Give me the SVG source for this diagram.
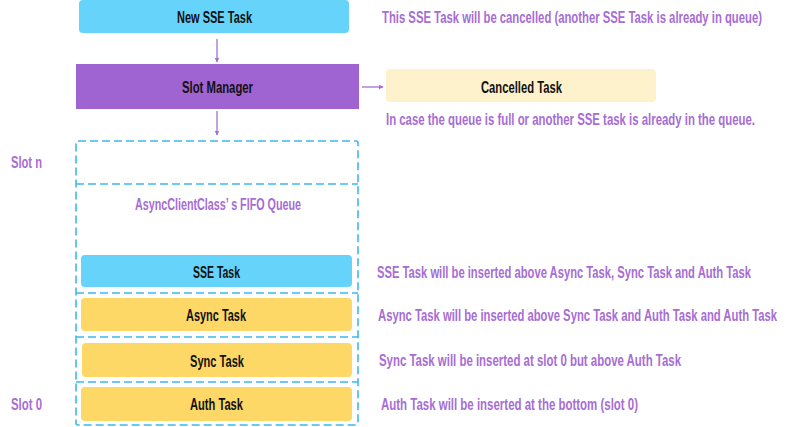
<svg xmlns="http://www.w3.org/2000/svg" width="800" height="427" viewBox="0 0 800 427">
<defs>
<marker id="ah" viewBox="0 0 10 10" refX="9" refY="5" markerWidth="5" markerHeight="5" orient="auto" markerUnits="userSpaceOnUse">
<path d="M0,0 L10,5 L0,10 z" fill="#A66DD4"/>
</marker>
<style>
text{font-family:"Liberation Sans","DejaVu Sans",sans-serif;font-size:16px;font-weight:bold;}
.lbl{fill:#111;text-anchor:middle;}
.note{fill:#A66DD4;}
.mid{fill:#A66DD4;text-anchor:middle;}
.blue{fill:#66D3FA;}
.yel{fill:#FED866;}
.dash{fill:none;stroke:#3CB8F0;stroke-width:1.6;stroke-dasharray:8 4;}
.conn{stroke:#A66DD4;stroke-width:1.3;fill:none;marker-end:url(#ah);}
</style>
</defs>
<rect width="800" height="427" fill="#fff"/>
<g id="connectors">
<line class="conn" x1="217" y1="39" x2="217" y2="62"/>
<line class="conn" x1="217" y1="111" x2="217" y2="135"/>
<line class="conn" x1="362" y1="87" x2="383" y2="87"/>
</g>
<g id="new-sse-task">
<rect class="blue" x="79" y="0" width="270" height="33" rx="4"/>
<text class="lbl" x="214.5" y="22.5" textLength="75" lengthAdjust="spacingAndGlyphs">New SSE Task</text>
</g>
<text class="note" x="382" y="22.5" textLength="380" lengthAdjust="spacingAndGlyphs">This SSE Task will be cancelled (another SSE Task is already in queue)</text>
<g id="slot-manager">
<rect x="76" y="64" width="283" height="45" fill="#A064D2"/>
<text class="lbl" x="217.5" y="92.5" textLength="71" lengthAdjust="spacingAndGlyphs">Slot Manager</text>
</g>
<g id="cancelled-task">
<rect x="386" y="69" width="270" height="33" rx="4" fill="#FEF2CC"/>
<text class="lbl" x="521.5" y="92.5" textLength="81" lengthAdjust="spacingAndGlyphs">Cancelled Task</text>
</g>
<text class="note" x="386" y="124.5" textLength="369" lengthAdjust="spacingAndGlyphs">In case the queue is full or another SSE task is already in the queue.</text>
<g id="queue">
<rect class="dash" x="76" y="141" width="282" height="284" rx="2"/>
<line class="dash" x1="76" y1="184" x2="358" y2="184"/>
<line class="dash" x1="76" y1="293" x2="358" y2="293"/>
<line class="dash" x1="76" y1="337" x2="358" y2="337"/>
<line class="dash" x1="76" y1="382" x2="358" y2="382"/>
<text class="mid" x="218" y="209.5" textLength="166" lengthAdjust="spacingAndGlyphs">AsyncClientClass’ s FIFO Queue</text>
</g>
<text class="note" x="11" y="167.5" textLength="31" lengthAdjust="spacingAndGlyphs">Slot n</text>
<text class="note" x="11" y="409.5" textLength="31" lengthAdjust="spacingAndGlyphs">Slot 0</text>
<g id="sse-task">
<rect class="blue" x="81" y="255" width="271" height="32" rx="4"/>
<text class="lbl" x="216.5" y="277.5" textLength="47" lengthAdjust="spacingAndGlyphs">SSE Task</text>
</g>
<g id="async-task">
<rect class="yel" x="81" y="298" width="271" height="33" rx="4"/>
<text class="lbl" x="216" y="320.5" textLength="60" lengthAdjust="spacingAndGlyphs">Async Task</text>
</g>
<g id="sync-task">
<rect class="yel" x="82" y="343" width="270" height="34" rx="4"/>
<text class="lbl" x="217" y="366.5" textLength="54" lengthAdjust="spacingAndGlyphs">Sync Task</text>
</g>
<g id="auth-task">
<rect class="yel" x="81" y="387" width="271" height="34" rx="4"/>
<text class="lbl" x="216.5" y="409.5" textLength="53" lengthAdjust="spacingAndGlyphs">Auth Task</text>
</g>
<text class="note" x="377" y="277.5" textLength="374" lengthAdjust="spacingAndGlyphs">SSE Task will be inserted above Async Task, Sync Task and Auth Task</text>
<text class="note" x="378" y="320.5" textLength="399" lengthAdjust="spacingAndGlyphs">Async Task will be inserted above Sync Task and Auth Task and Auth Task</text>
<text class="note" x="379" y="365.5" textLength="302" lengthAdjust="spacingAndGlyphs">Sync Task will be inserted at slot 0 but above Auth Task</text>
<text class="note" x="381" y="409.5" textLength="257" lengthAdjust="spacingAndGlyphs">Auth Task will be inserted at the bottom (slot 0)</text>
</svg>
